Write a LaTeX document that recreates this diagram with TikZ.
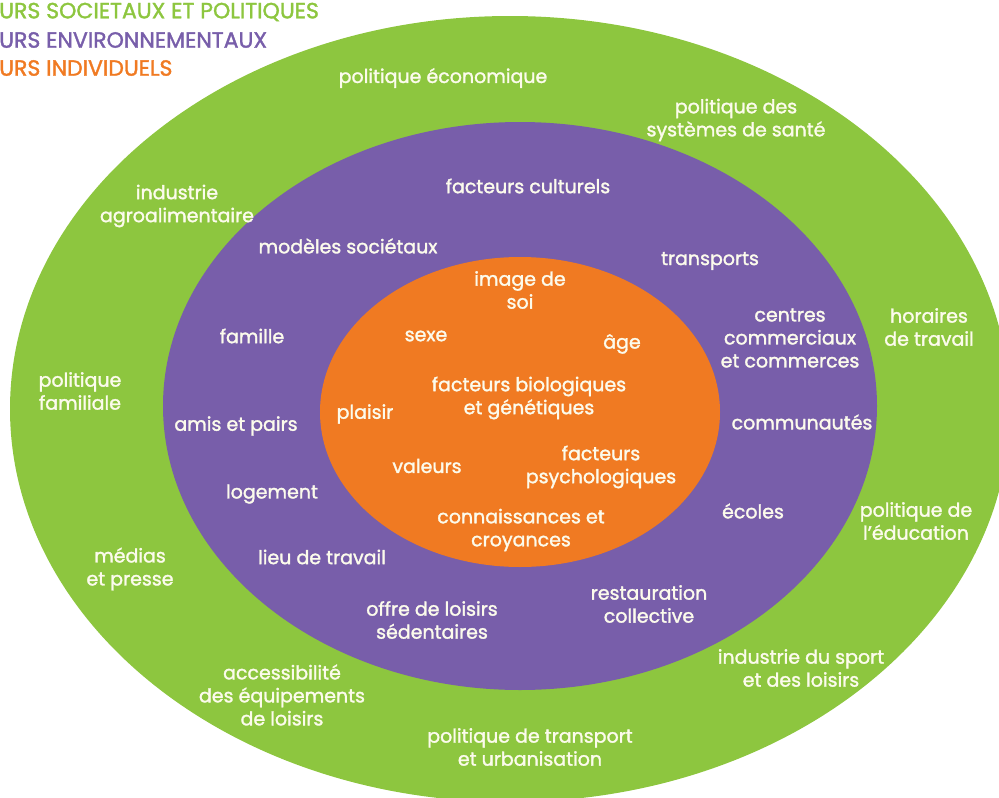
\documentclass[tikz,border=0pt]{standalone}
\usepackage{fontspec}
\setmainfont{Poppins}
\newfontfamily\ringfont{Poppins}[FakeBold=1.6]
\usetikzlibrary{shapes.geometric}
\definecolor{socgreen}{RGB}{141,198,63}
\definecolor{envpurple}{RGB}{120,94,170}
\definecolor{indorange}{RGB}{240,122,34}
\definecolor{cream}{RGB}{252,251,236}
\tikzset{
  ring/.style={ellipse, draw=none, inner sep=0pt},
  lbl/.style={text=cream, align=center, inner sep=0pt,
              font=\ringfont\fontsize{19}{23}\selectfont},
  leg/.style={anchor=west, inner sep=0pt,
              font=\ringfont\fontsize{22}{28}\selectfont},
}

\begin{document}
\begin{tikzpicture}[x=1pt, y=-1pt]

  \useasboundingbox (0,0) rectangle (999,798);

  % the three rings
  \node[ring, fill=socgreen, minimum width=1000pt, minimum height=786pt] (soc) at (510,409) {};
  \node[ring, fill=envpurple, minimum width=714pt, minimum height=568pt] (env) at (520,406) {};
  \node[ring, fill=indorange, minimum width=400pt, minimum height=310pt] (ind) at (520,412) {};

  % legend
  \node[leg, text=socgreen] (legsoc) at (-1,12) {URS SOCIETAUX ET POLITIQUES};
  \node[leg, text=envpurple] (legenv) at (-1,40) {URS ENVIRONNEMENTAUX};
  \node[leg, text=indorange] (legind) at (-1,68) {URS INDIVIDUELS};

  % societal and political factors
  \node[lbl] (eco) at (443,78) {politique économique};
  \node[lbl] (sante) at (736,120) {politique des\\systèmes de santé};
  \node[lbl] (agro) at (177,206) {industrie\\agroalimentaire};
  \node[lbl] (horaires) at (929,327) {horaires\\de travail};
  \node[lbl] (famil) at (80,391) {politique\\familiale};
  \node[lbl] (educ) at (916,521) {politique de\\l’éducation};
  \node[lbl] (medias) at (130,569) {médias\\et presse};
  \node[lbl] (sport) at (801,668) {industrie du sport\\et des loisirs};
  \node[lbl] (acces) at (282,695) {accessibilité\\des équipements\\de loisirs};
  \node[lbl] (urba) at (530,747) {politique de transport\\et urbanisation};

  % environmental factors
  \node[lbl] (cult) at (528,186) {facteurs culturels};
  \node[lbl] (modeles) at (348,246) {modèles sociétaux};
  \node[lbl] (transp) at (710,261) {transports};
  \node[lbl] (famille) at (252,336) {famille};
  \node[lbl] (centres) at (790,338) {centres\\commerciaux\\et commerces};
  \node[lbl] (amis) at (236,426) {amis et pairs};
  \node[lbl] (commu) at (802,422) {communautés};
  \node[lbl] (logem) at (272,494) {logement};
  \node[lbl] (ecoles) at (753,511) {écoles};
  \node[lbl] (lieu) at (322,557) {lieu de travail};
  \node[lbl] (resto) at (649,604) {restauration\\collective};
  \node[lbl] (offre) at (432,620) {offre de loisirs\\sédentaires};

  % individual factors
  \node[lbl] (image) at (520,290) {image de\\soi};
  \node[lbl] (sexe) at (426,336) {sexe};
  \node[lbl] (age) at (622,344) {âge};
  \node[lbl] (bio) at (529,398) {facteurs biologiques\\et génétiques};
  \node[lbl] (plaisir) at (365,414) {plaisir};
  \node[lbl] (valeurs) at (427,466) {valeurs};
  \node[lbl] (psycho) at (601,467) {facteurs\\psychologiques};
  \node[lbl] (connais) at (521,530) {connaissances et\\croyances};

\end{tikzpicture}
\end{document}
